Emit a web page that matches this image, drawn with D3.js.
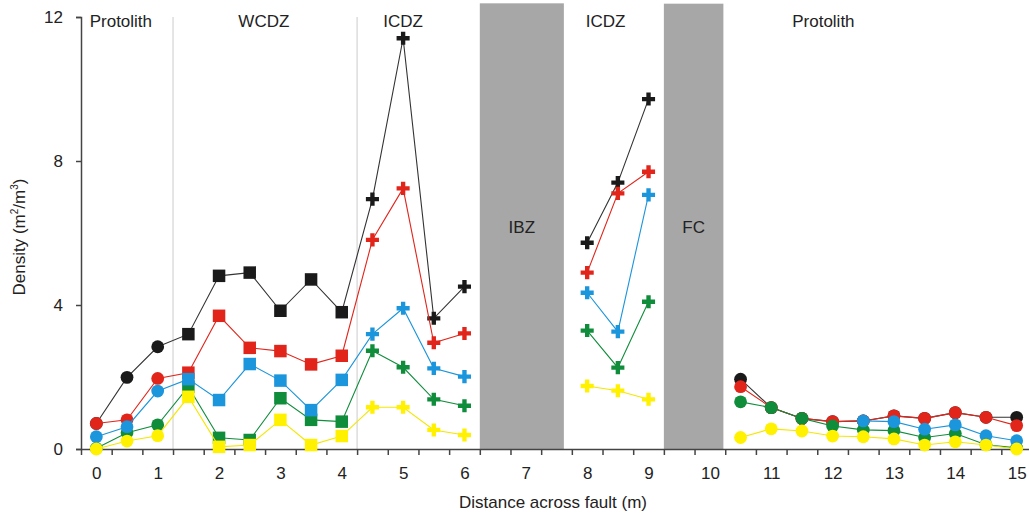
<!DOCTYPE html>
<html>
<head>
<meta charset="utf-8">
<script src="https://cdn.jsdelivr.net/npm/d3@7"></script>
<style>
  html, body { margin: 0; padding: 0; background: #fff; }
  svg { display: block; font-family: "Liberation Sans", Arial, sans-serif; }
</style>
</head>
<body>
<svg id="chart" width="1029" height="518"></svg>
<script>
// ---- data ----
const positions = [0,0.5,1,1.5,2,2.5,3,3.5,4,4.5,5,5.5,6,6.5,7,7.5,8,8.5,9,9.5,10,10.5,11,11.5,12,12.5,13,13.5,14,14.5,15];
const markerShapes = ["circle","circle","circle","square","square","square","square","square","square",
  "cross","cross","cross","cross",null,null,null,"cross","cross","cross",null,null,
  "circle","circle","circle","circle","circle","circle","circle","circle","circle","circle"];
const blackValues  = [0.71,1.99,2.84,3.19,4.81,4.90,3.84,4.71,3.80,6.94,11.41,3.63,4.51,null,null,null,5.73,7.40,9.72,null,null,1.94,1.15,0.85,0.76,0.78,0.92,0.85,1.01,0.88,0.88];
const redValues    = [0.71,0.81,1.96,2.12,3.70,2.81,2.72,2.35,2.59,5.81,7.24,2.95,3.21,null,null,null,4.90,7.10,7.70,null,null,1.73,1.15,0.85,0.76,0.78,0.92,0.85,1.01,0.88,0.65];
const blueValues   = [0.34,0.62,1.61,1.94,1.36,2.36,1.90,1.08,1.92,3.19,3.91,2.24,2.01,null,null,null,4.34,3.26,7.06,null,null,null,null,null,null,0.78,0.76,0.55,0.67,0.37,0.23];
const greenValues  = [0.02,0.45,0.67,1.73,0.31,0.25,1.41,0.81,0.76,2.73,2.27,1.38,1.20,null,null,null,3.29,2.26,4.09,null,null,1.31,1.15,0.85,0.64,0.53,0.51,0.32,0.43,0.12,0.03];
const yellowValues = [0.00,0.22,0.37,1.45,0.06,0.11,0.81,0.11,0.36,1.16,1.16,0.53,0.39,null,null,null,1.75,1.62,1.38,null,null,0.32,0.56,0.50,0.36,0.34,0.28,0.11,0.20,0.11,0.00];
const seriesNames  = ["black","red","green","blue","yellow"];
const seriesColors = ["#1a1a1a","#e1251b","#0f8d3b","#1b95db","#fff100"];
const seriesLineColors = ["#333333","#e1251b","#0f8d3b","#1b95db","#f5e600"];
const seriesData   = [blackValues, redValues, greenValues, blueValues, yellowValues];

const yTicks = [0,4,8,12];
const xTickLabels = [0,1,2,3,4,5,6,7,8,9,10,11,12,13,14,15];
const zoneLabels = [
  {text:"Protolith", x:0.4},
  {text:"WCDZ", x:2.73},
  {text:"ICDZ", x:5.0},
  {text:"ICDZ", x:8.3},
  {text:"Protolith", x:11.85}
];
const zoneDividers = [1.25, 4.25];
const grayBands = [
  {label:"IBZ", x0:6.25, x1:7.62, top:12.38},
  {label:"FC",  x0:9.25, x1:10.22, top:12.37}
];

// ---- scales ----
const svg = d3.select("#chart");
const x = d3.scaleLinear().domain([-0.25, 15.25]).range([81, 1032]);
const y = d3.scaleLinear().domain([0, 12]).range([449, 17]);

// gray bands
svg.selectAll("rect.band").data(grayBands).join("rect")
  .attr("class","band")
  .attr("x", d => x(d.x0)).attr("width", d => x(d.x1) - x(d.x0))
  .attr("y", d => y(d.top)).attr("height", d => y(0) - y(d.top))
  .attr("fill", "#a7a7a7");
svg.selectAll("text.bandlabel").data(grayBands).join("text")
  .attr("class","bandlabel")
  .attr("x", d => (x(d.x0) + x(d.x1)) / 2).attr("y", 233)
  .attr("text-anchor","middle").attr("font-size", 17).attr("fill","#222")
  .text(d => d.label);

// zone dividers
svg.selectAll("line.div").data(zoneDividers).join("line")
  .attr("class","div")
  .attr("x1", d => x(d)).attr("x2", d => x(d))
  .attr("y1", y(12)).attr("y2", y(0))
  .attr("stroke", "#d4d4d4").attr("stroke-width", 1.2);

// zone labels
svg.selectAll("text.zone").data(zoneLabels).join("text")
  .attr("class","zone")
  .attr("x", d => x(d.x)).attr("y", 27)
  .attr("text-anchor","middle").attr("font-size", 17).attr("fill","#222")
  .text(d => d.text);

// y axis
const yAxis = d3.axisLeft(y).tickValues(yTicks).tickSize(5).tickPadding(13).tickFormat(d3.format("d"));
const gy = svg.append("g").attr("transform", `translate(${x(-0.25)},0)`).call(yAxis);
gy.select(".domain").attr("stroke","#444").attr("stroke-width",1.5);
gy.selectAll(".tick line").attr("stroke","#444").attr("stroke-width",1.5);
gy.selectAll(".tick text").attr("font-size",17).attr("fill","#222")
  .attr("font-family",'"Liberation Sans", Arial, sans-serif');

// x axis: minor tick marks between categories, labels at integers
const minorTicks = d3.range(-0.25, 15.26, 0.5);
const xAxisTicks = d3.axisBottom(x).tickValues(minorTicks).tickSize(6).tickFormat("").tickSizeOuter(0);
const gx = svg.append("g").attr("transform", `translate(0,${y(0)})`).call(xAxisTicks);
gx.select(".domain").attr("stroke","#444").attr("stroke-width",1.5);
gx.selectAll(".tick line").attr("stroke","#444").attr("stroke-width",1.5);
const xAxisLabels = d3.axisBottom(x).tickValues(xTickLabels).tickSize(0).tickPadding(18).tickFormat(d3.format("d"));
const gxl = svg.append("g").attr("transform", `translate(0,${y(0)})`).call(xAxisLabels);
gxl.select(".domain").remove();
gxl.selectAll(".tick text").attr("font-size",17).attr("fill","#222")
  .attr("font-family",'"Liberation Sans", Arial, sans-serif');

// axis titles
svg.append("text").attr("x", 553).attr("y", 508).attr("text-anchor","middle")
  .attr("font-size",17).attr("fill","#222").text("Distance across fault (m)");
const yt = svg.append("text").attr("transform","translate(25,237) rotate(-90)")
  .attr("text-anchor","middle").attr("font-size",17).attr("fill","#222");
yt.append("tspan").text("Density (m");
yt.append("tspan").attr("font-size",10).attr("dy",-7).text("2");
yt.append("tspan").attr("dy",7).text("/m");
yt.append("tspan").attr("font-size",10).attr("dy",-7).text("3");
yt.append("tspan").attr("dy",7).text(")");

// series
const line = d3.line()
  .defined(d => d.v !== null)
  .x(d => x(d.p)).y(d => y(d.v));
const symbolFor = {
  circle: d3.symbol().type(d3.symbolCircle).size(Math.PI * 6.4 * 6.4),
  square: d3.symbol().type(d3.symbolSquare).size(12.5 * 12.5),
  cross:  d3.symbol().type(d3.symbolCross).size(95)
};

seriesData.forEach((vals, i) => {
  const pts = positions.map((p, k) => ({p, v: vals[k], shape: markerShapes[k]}));
  const g = svg.append("g").attr("class", "series-" + seriesNames[i]);
  g.append("path").datum(pts)
    .attr("d", line).attr("fill","none")
    .attr("stroke", seriesLineColors[i]).attr("stroke-width", 1.1);
  g.selectAll("path.mk").data(pts.filter(d => d.v !== null && d.shape)).join("path")
    .attr("class","mk")
    .attr("transform", d => `translate(${x(d.p)},${y(d.v)})`)
    .attr("d", d => symbolFor[d.shape]())
    .attr("fill", seriesColors[i]);
});
</script>
</body>
</html>
